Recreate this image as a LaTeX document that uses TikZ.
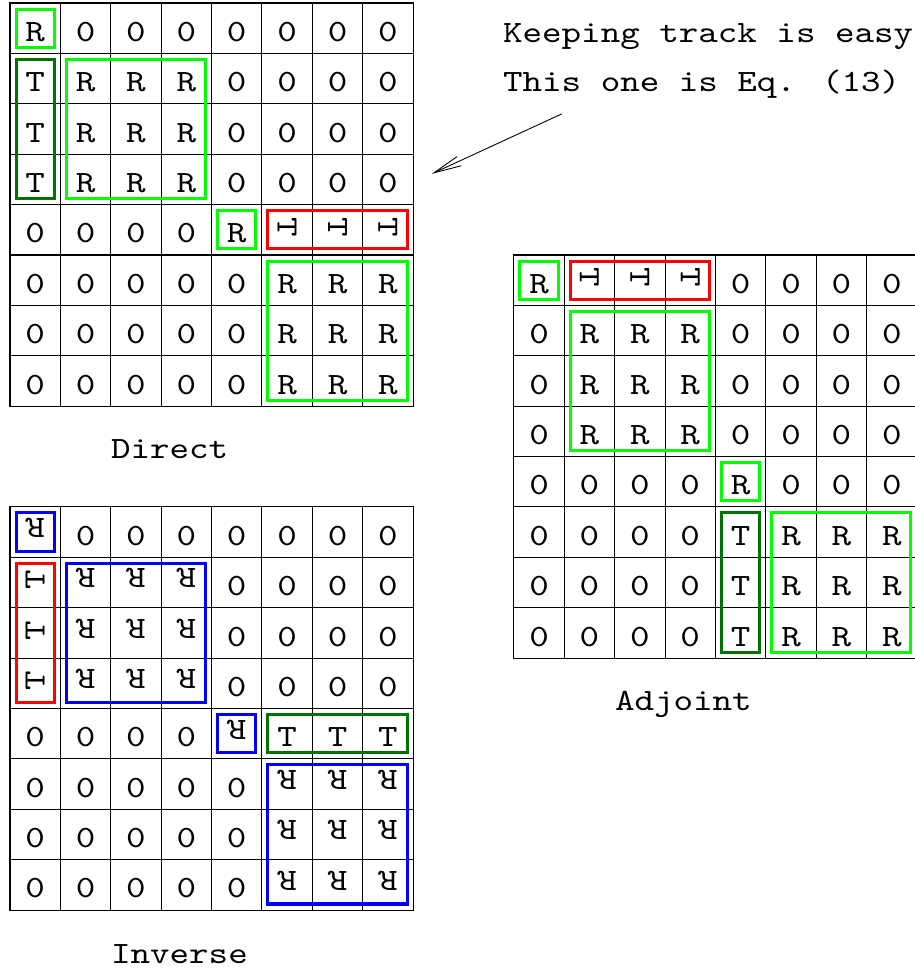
\documentclass[tikz,border=0pt]{standalone}
\usepackage{fontspec}
\newfontfamily\cour{lmmono10-regular.otf}[FakeStretch=1.2]
\usepackage{graphicx}
\usetikzlibrary{arrows.meta}

\definecolor{boxgreen}{RGB}{0,255,0}
\definecolor{darkgreen}{RGB}{0,115,0}
\definecolor{boxred}{RGB}{255,0,0}
\definecolor{boxblue}{RGB}{0,0,255}

% turned letters
\newcommand{\Rinv}{\raisebox{0.16cm}{\rotatebox[origin=c]{180}{R}}}
\newcommand{\Tcw}{\raisebox{0.12cm}{\rotatebox[origin=c]{-90}{T}}}
\newcommand{\Tccw}{\raisebox{0.12cm}{\rotatebox[origin=c]{90}{T}}}

% coloured frame round a block of cells
\newcommand{\hilite}[3]{\draw[blockbox,#1] ([shift={(0.12,-0.12)}]#2.north west) rectangle ([shift={(-0.12,0.12)}]#3.south east);}

\tikzset{
  cell/.style={draw, line width=0.6pt, minimum size=1cm, inner sep=0pt, outer sep=0pt,
    text height=0.6cm, text depth=0.08cm, font=\cour\fontsize{17.5}{22}\selectfont},
  blockbox/.style={line width=1.7pt},
  gridname/.style={anchor=base west, inner sep=0pt, font=\cour\fontsize{17.5}{22}\selectfont},
}

\begin{document}
\begin{tikzpicture}
    \useasboundingbox (-0.198,0.06) rectangle (17.956,-19.19);

    % Direct
    \foreach \row [count=\r] in {
        {R,0,0,0,0,0,0,0},
        {T,R,R,R,0,0,0,0},
        {T,R,R,R,0,0,0,0},
        {T,R,R,R,0,0,0,0},
        {0,0,0,0,R,\Tcw,\Tcw,\Tcw},
        {0,0,0,0,0,R,R,R},
        {0,0,0,0,0,R,R,R},
        {0,0,0,0,0,R,R,R}}{
        \foreach \e [count=\c] in \row
            \node[cell] (d-\r-\c) at (\c-0.5,0.5-\r) {\e};
    }
    \hilite{boxgreen}{d-1-1}{d-1-1}
    \hilite{darkgreen}{d-2-1}{d-4-1}
    \hilite{boxgreen}{d-2-2}{d-4-4}
    \hilite{boxgreen}{d-5-5}{d-5-5}
    \hilite{boxred}{d-5-6}{d-5-8}
    \hilite{boxgreen}{d-6-6}{d-8-8}
    \node[gridname] (direct) at (2,-9.03) {Direct};

    % Adjoint
    \foreach \row [count=\r] in {
        {R,\Tcw,\Tcw,\Tcw,0,0,0,0},
        {0,R,R,R,0,0,0,0},
        {0,R,R,R,0,0,0,0},
        {0,R,R,R,0,0,0,0},
        {0,0,0,0,R,0,0,0},
        {0,0,0,0,T,R,R,R},
        {0,0,0,0,T,R,R,R},
        {0,0,0,0,T,R,R,R}}{
        \foreach \e [count=\c] in \row
            \node[cell] (a-\r-\c) at (9.5+\c,-4.5-\r) {\e};
    }
    \hilite{boxgreen}{a-1-1}{a-1-1}
    \hilite{boxred}{a-1-2}{a-1-4}
    \hilite{boxgreen}{a-2-2}{a-4-4}
    \hilite{boxgreen}{a-5-5}{a-5-5}
    \hilite{darkgreen}{a-6-5}{a-8-5}
    \hilite{boxgreen}{a-6-6}{a-8-8}
    \node[gridname] (adjoint) at (12,-14.03) {Adjoint};

    % Inverse
    \foreach \row [count=\r] in {
        {\Rinv,0,0,0,0,0,0,0},
        {\Tccw,\Rinv,\Rinv,\Rinv,0,0,0,0},
        {\Tccw,\Rinv,\Rinv,\Rinv,0,0,0,0},
        {\Tccw,\Rinv,\Rinv,\Rinv,0,0,0,0},
        {0,0,0,0,\Rinv,T,T,T},
        {0,0,0,0,0,\Rinv,\Rinv,\Rinv},
        {0,0,0,0,0,\Rinv,\Rinv,\Rinv},
        {0,0,0,0,0,\Rinv,\Rinv,\Rinv}}{
        \foreach \e [count=\c] in \row
            \node[cell] (i-\r-\c) at (\c-0.5,-9.5-\r) {\e};
    }
    \hilite{boxblue}{i-1-1}{i-1-1}
    \hilite{boxred}{i-2-1}{i-4-1}
    \hilite{boxblue}{i-2-2}{i-4-4}
    \hilite{boxblue}{i-5-5}{i-5-5}
    \hilite{darkgreen}{i-5-6}{i-5-8}
    \hilite{boxblue}{i-6-6}{i-8-8}
    \node[gridname] (inverse) at (2,-19.07) {Inverse};

    % note
    \node[gridname] (keep) at (9.78,-0.79) {Keeping track is easy};
    \node[gridname] (eqno) at (9.78,-1.76) {This one is Eq. (13)};
    \coordinate (tail) at (10.95,-2.20);
    \coordinate (head) at (8.37,-3.39);
    \draw[-{Straight Barb[length=0.55cm,width=0.2cm]}, line width=0.5pt] (tail) -- (head);
\end{tikzpicture}
\end{document}
